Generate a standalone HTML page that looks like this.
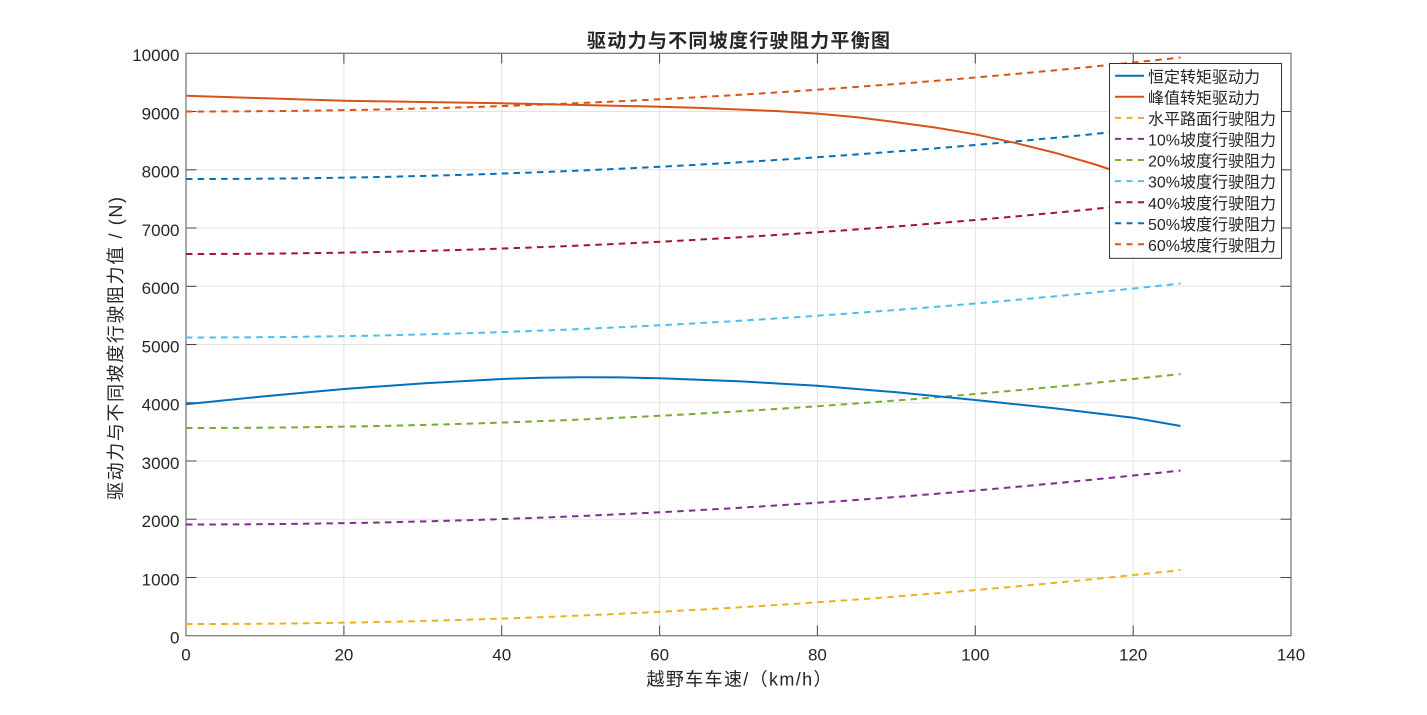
<!DOCTYPE html>
<html>
<head>
<meta charset="utf-8">
<style>
html,body{margin:0;padding:0;background:#ffffff;}
svg{display:block;}
text{font-family:"Liberation Sans","Noto Sans CJK SC",sans-serif;fill:#262626;}
</style>
</head>
<body>
<svg width="1427" height="715" viewBox="0 0 1427 715" xmlns="http://www.w3.org/2000/svg">
<rect x="0" y="0" width="1427" height="715" fill="#ffffff"/>

<!-- grid -->
<g stroke="#e3e3e3" stroke-width="1" fill="none">
  <line x1="343.9" y1="53.3" x2="343.9" y2="635.7"/>
  <line x1="501.7" y1="53.3" x2="501.7" y2="635.7"/>
  <line x1="659.6" y1="53.3" x2="659.6" y2="635.7"/>
  <line x1="817.4" y1="53.3" x2="817.4" y2="635.7"/>
  <line x1="975.3" y1="53.3" x2="975.3" y2="635.7"/>
  <line x1="1133.2" y1="53.3" x2="1133.2" y2="635.7"/>
  <line x1="186" y1="577.5" x2="1291" y2="577.5"/>
  <line x1="186" y1="519.2" x2="1291" y2="519.2"/>
  <line x1="186" y1="461.0" x2="1291" y2="461.0"/>
  <line x1="186" y1="402.7" x2="1291" y2="402.7"/>
  <line x1="186" y1="344.5" x2="1291" y2="344.5"/>
  <line x1="186" y1="286.3" x2="1291" y2="286.3"/>
  <line x1="186" y1="228.0" x2="1291" y2="228.0"/>
  <line x1="186" y1="169.8" x2="1291" y2="169.8"/>
  <line x1="186" y1="111.5" x2="1291" y2="111.5"/>
</g>

<!-- ticks -->
<g stroke="#444" stroke-width="1" fill="none">
  <line x1="343.9" y1="635.7" x2="343.9" y2="625.5"/>
  <line x1="501.7" y1="635.7" x2="501.7" y2="625.5"/>
  <line x1="659.6" y1="635.7" x2="659.6" y2="625.5"/>
  <line x1="817.4" y1="635.7" x2="817.4" y2="625.5"/>
  <line x1="975.3" y1="635.7" x2="975.3" y2="625.5"/>
  <line x1="1133.2" y1="635.7" x2="1133.2" y2="625.5"/>
  <line x1="343.9" y1="53.3" x2="343.9" y2="63.5"/>
  <line x1="501.7" y1="53.3" x2="501.7" y2="63.5"/>
  <line x1="659.6" y1="53.3" x2="659.6" y2="63.5"/>
  <line x1="817.4" y1="53.3" x2="817.4" y2="63.5"/>
  <line x1="975.3" y1="53.3" x2="975.3" y2="63.5"/>
  <line x1="1133.2" y1="53.3" x2="1133.2" y2="63.5"/>
  <line x1="186" y1="577.5" x2="196.5" y2="577.5"/>
  <line x1="186" y1="519.2" x2="196.5" y2="519.2"/>
  <line x1="186" y1="461.0" x2="196.5" y2="461.0"/>
  <line x1="186" y1="402.7" x2="196.5" y2="402.7"/>
  <line x1="186" y1="344.5" x2="196.5" y2="344.5"/>
  <line x1="186" y1="286.3" x2="196.5" y2="286.3"/>
  <line x1="186" y1="228.0" x2="196.5" y2="228.0"/>
  <line x1="186" y1="169.8" x2="196.5" y2="169.8"/>
  <line x1="186" y1="111.5" x2="196.5" y2="111.5"/>
  <line x1="1291" y1="577.5" x2="1280.5" y2="577.5"/>
  <line x1="1291" y1="519.2" x2="1280.5" y2="519.2"/>
  <line x1="1291" y1="461.0" x2="1280.5" y2="461.0"/>
  <line x1="1291" y1="402.7" x2="1280.5" y2="402.7"/>
  <line x1="1291" y1="344.5" x2="1280.5" y2="344.5"/>
  <line x1="1291" y1="286.3" x2="1280.5" y2="286.3"/>
  <line x1="1291" y1="228.0" x2="1280.5" y2="228.0"/>
  <line x1="1291" y1="169.8" x2="1280.5" y2="169.8"/>
  <line x1="1291" y1="111.5" x2="1280.5" y2="111.5"/>
</g>

<!-- axes box -->
<rect x="186" y="53.3" width="1105" height="582.4" fill="none" stroke="#707070" stroke-width="1.2"/>

<!-- resistance curves (exact parabolas) -->
<g fill="none" stroke-width="2" stroke-dasharray="6.5 5.2">
  <path d="M186,624.05 Q683.3,624.05 1180.5,570.05" stroke="#EDB120"/>
  <path d="M186,524.5 Q683.3,524.5 1180.5,470.5" stroke="#7E2F8E"/>
  <path d="M186,428.0 Q683.3,428.0 1180.5,374.0" stroke="#77AC30"/>
  <path d="M186,337.5 Q683.3,337.5 1180.5,283.5" stroke="#4DBEEE"/>
  <path d="M186,254.0 Q683.3,254.0 1180.5,200.0" stroke="#A2142F"/>
  <path d="M186,179.0 Q683.3,179.0 1180.5,125.0" stroke="#0072BD"/>
  <path d="M186,111.5 Q683.3,111.5 1180.5,57.5" stroke="#D95319"/>
</g>

<!-- drive force curves -->
<polyline fill="none" stroke="#0072BD" stroke-width="2" stroke-linejoin="round"
 points="186,404.3 264.9,396.3 343.9,389 422.8,383.4 501.7,379 541.2,377.8 580.7,377.3 620.1,377.4 659.6,378.3 738.5,381.3 817.4,385.7 896.4,392.3 975.3,400 1054.2,408.3 1133.2,417.7 1180.5,426"/>
<polyline fill="none" stroke="#D95319" stroke-width="2" stroke-linejoin="round"
 points="186,95.7 264.9,98.3 343.9,100.7 422.8,102.0 501.7,103.3 580.7,105.0 659.6,106.7 699.1,107.9 738.5,109.5 778,111.1 817.4,113.6 856.9,117.3 896.4,122.2 935.8,127.6 975.3,134.3 1014.8,142.8 1054.2,152.6 1093.7,164 1133.2,177 1180.5,194"/>

<!-- tick labels -->
<g font-size="17" text-anchor="middle">
  <text x="186" y="660.5">0</text>
  <text x="343.9" y="660.5">20</text>
  <text x="501.7" y="660.5">40</text>
  <text x="659.6" y="660.5">60</text>
  <text x="817.4" y="660.5">80</text>
  <text x="975.3" y="660.5">100</text>
  <text x="1133.2" y="660.5">120</text>
  <text x="1291" y="660.5">140</text>
</g>
<g font-size="17" text-anchor="end">
  <text x="179.5" y="643.5">0</text>
  <text x="179.5" y="585.3">1000</text>
  <text x="179.5" y="527.0">2000</text>
  <text x="179.5" y="468.8">3000</text>
  <text x="179.5" y="410.5">4000</text>
  <text x="179.5" y="352.3">5000</text>
  <text x="179.5" y="294.1">6000</text>
  <text x="179.5" y="235.8">7000</text>
  <text x="179.5" y="177.6">8000</text>
  <text x="179.5" y="119.3">9000</text>
  <text x="179.5" y="61.1">10000</text>
</g>

<!-- title & axis labels -->
<text x="738.5" y="47" font-size="19" font-weight="bold" text-anchor="middle" textLength="303" lengthAdjust="spacing">驱动力与不同坡度行驶阻力平衡图</text>
<text x="739" y="685.5" font-size="18" text-anchor="middle" fill="#404040" textLength="185" lengthAdjust="spacing">越野车车速/（km/h）</text>
<text transform="translate(122,348.5) rotate(-90)" x="0" y="0" font-size="18" text-anchor="middle" fill="#404040" textLength="303" lengthAdjust="spacing">驱动力与不同坡度行驶阻力值 / (N)</text>

<!-- legend -->
<rect x="1109.5" y="63.5" width="172" height="194.8" fill="#ffffff" stroke="#333" stroke-width="1"/>
<g stroke-width="2" fill="none">
  <line x1="1115" y1="75.7" x2="1144" y2="75.7" stroke="#0072BD"/>
  <line x1="1115" y1="96.8" x2="1144" y2="96.8" stroke="#D95319"/>
  <g stroke-dasharray="6 5.5">
    <line x1="1115" y1="117.9" x2="1144" y2="117.9" stroke="#EDB120"/>
    <line x1="1115" y1="138.9" x2="1144" y2="138.9" stroke="#7E2F8E"/>
    <line x1="1115" y1="160.0" x2="1144" y2="160.0" stroke="#77AC30"/>
    <line x1="1115" y1="181.1" x2="1144" y2="181.1" stroke="#4DBEEE"/>
    <line x1="1115" y1="202.2" x2="1144" y2="202.2" stroke="#A2142F"/>
    <line x1="1115" y1="223.3" x2="1144" y2="223.3" stroke="#0072BD"/>
    <line x1="1115" y1="244.3" x2="1144" y2="244.3" stroke="#D95319"/>
  </g>
</g>
<g font-size="16" fill="#000">
  <text x="1148" y="82.3">恒定转矩驱动力</text>
  <text x="1148" y="103.4">峰值转矩驱动力</text>
  <text x="1148" y="124.5">水平路面行驶阻力</text>
  <text x="1148" y="145.5">10%坡度行驶阻力</text>
  <text x="1148" y="166.6">20%坡度行驶阻力</text>
  <text x="1148" y="187.7">30%坡度行驶阻力</text>
  <text x="1148" y="208.8">40%坡度行驶阻力</text>
  <text x="1148" y="229.9">50%坡度行驶阻力</text>
  <text x="1148" y="250.9">60%坡度行驶阻力</text>
</g>
</svg>
</body>
</html>
